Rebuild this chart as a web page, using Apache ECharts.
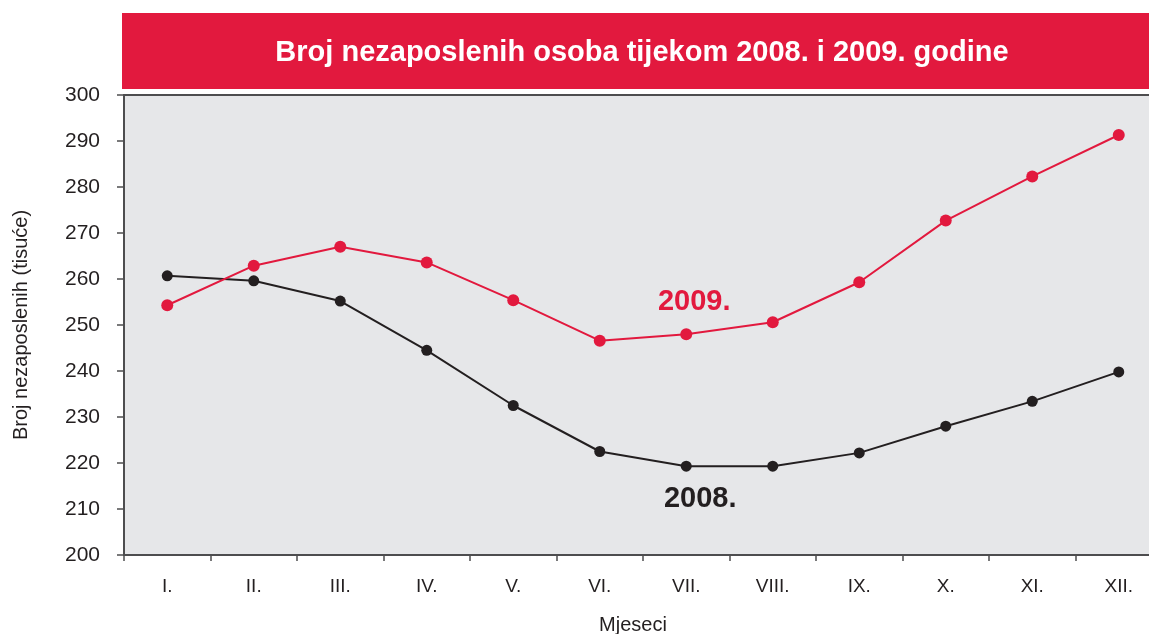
<!DOCTYPE html>
<html>
<head>
<meta charset="utf-8">
<script src="https://cdn.jsdelivr.net/npm/echarts@6/dist/echarts.min.js"></script>
<style>
  html, body { margin: 0; padding: 0; background: #fff; }
  #main { width: 1149px; height: 634px; }
</style>
</head>
<body>
<div id="main"></div>
<script>
// months (x categories)
const months = ['I.', 'II.', 'III.', 'IV.', 'V.', 'VI.', 'VII.', 'VIII.', 'IX.', 'X.', 'XI.', 'XII.']
// unemployed persons, thousands
const y2008 = [260.7, 259.6, 255.2, 244.5, 232.5, 222.5, 219.3, 219.3, 222.2, 228.0, 233.4, 239.8]
const y2009 = [254.3, 262.9, 267.0, 263.6, 255.4, 246.6, 248.0, 250.6, 259.3, 272.7, 282.3, 291.3]
// y axis ticks
const yMin = 200
const yMax = 300
const yStep = 10

const RED = '#e2193e'
const DARK = '#231f20'
const FONT = 'Liberation Sans, Arial, sans-serif'

const chart = echarts.init(document.getElementById('main'))

const option = {
  animation: false,
  title: {
    text: 'Broj nezaposlenih osoba tijekom 2008. i 2009. godine',
    left: 642,
    top: 38,
    padding: 0,
    textAlign: 'center',
    textStyle: { color: '#fff', fontSize: 29, fontWeight: 'bold', fontFamily: FONT }
  },
  graphic: [
    {
      type: 'rect',
      z: -1,
      shape: { x: 122, y: 13, width: 1040, height: 76 },
      style: { fill: RED }
    }
  ],
  grid: {
    left: 124,
    right: -13,
    top: 95,
    bottom: 79,
    outerBoundsMode: 'none',
    containLabel: false,
    show: true,
    backgroundColor: '#e6e7e9',
    borderWidth: 0
  },
  xAxis: [
    {
      type: 'category',
      data: months,
      boundaryGap: true,
      name: 'Mjeseci',
      nameLocation: 'middle',
      nameGap: 60,
      nameTextStyle: { color: '#231f20', fontSize: 20, fontFamily: FONT, padding: [0, 20, 0, 0] },
      axisLine: { lineStyle: { color: '#4d4d4f', width: 2 } },
      axisTick: { show: true, length: 6, lineStyle: { color: '#4d4d4f', width: 1.5 } },
      axisLabel: { color: '#231f20', fontSize: 19, fontFamily: FONT, margin: 22 },
      splitLine: { show: false }
    },
    {
      // top border of the plot
      type: 'category',
      data: months,
      position: 'top',
      axisLine: { lineStyle: { color: '#4d4d4f', width: 2 } },
      axisTick: { show: false },
      axisLabel: { show: false }
    }
  ],
  yAxis: {
    type: 'value',
    min: yMin,
    max: yMax,
    interval: yStep,
    name: 'Broj nezaposlenih (tisuće)',
    nameLocation: 'middle',
    nameGap: 93,
    nameTextStyle: { color: '#231f20', fontSize: 20, fontFamily: FONT },
    axisLine: { show: true, lineStyle: { color: '#4d4d4f', width: 2 } },
    axisTick: { show: true, length: 7, lineStyle: { color: '#4d4d4f', width: 1.5 } },
    axisLabel: { color: '#231f20', fontSize: 21, fontFamily: FONT, margin: 24 },
    splitLine: { show: false }
  },
  series: [
    {
      name: '2008.',
      type: 'line',
      data: y2008,
      symbol: 'circle',
      symbolSize: 11,
      itemStyle: { color: DARK },
      lineStyle: { color: DARK, width: 2 },
      markPoint: {
        symbol: 'circle',
        symbolSize: 0,
        data: [{ coord: [6, 212.2], value: '2008.' }],
        label: {
          show: true,
          formatter: '2008.',
          color: DARK,
          fontSize: 29,
          fontWeight: 'bold',
          fontFamily: FONT,
          offset: [14, 0]
        }
      }
    },
    {
      name: '2009.',
      type: 'line',
      data: y2009,
      symbol: 'circle',
      symbolSize: 12,
      itemStyle: { color: RED },
      lineStyle: { color: RED, width: 2 },
      markPoint: {
        symbol: 'circle',
        symbolSize: 0,
        data: [{ coord: [6, 255.0], value: '2009.' }],
        label: {
          show: true,
          formatter: '2009.',
          color: RED,
          fontSize: 29,
          fontWeight: 'bold',
          fontFamily: FONT,
          offset: [8, 0]
        }
      }
    }
  ]
}

chart.setOption(option)
</script>
</body>
</html>
